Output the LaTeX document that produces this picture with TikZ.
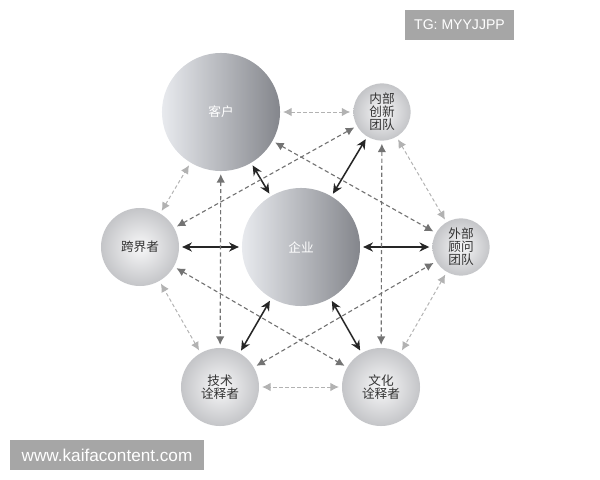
\documentclass[tikz,border=0pt]{standalone}
\usepackage{fontspec}
\newfontfamily\cjk{Noto Sans CJK SC}
\setsansfont{Liberation Sans}
\usetikzlibrary{arrows.meta}

\definecolor{ballleft}{RGB}{232,234,238}
\definecolor{ballright}{RGB}{132,134,140}
\definecolor{ballinner}{RGB}{248,248,249}
\definecolor{ballouter}{RGB}{196,197,200}
\definecolor{marksgray}{RGB}{166,166,166}

\tikzset{
  bigball/.style={circle, minimum size=2.95cm, inner sep=0pt,
    left color=ballleft, right color=ballright, text=white,
    font=\cjk\fontsize{9pt}{9.3pt}\selectfont},
  smallball/.style={circle, minimum size=1.95cm, inner sep=0pt, align=center,
    inner color=ballinner, outer color=ballouter, text=black!80,
    font=\cjk\fontsize{9pt}{9.3pt}\selectfont},
  corearrow/.style={{Stealth[length=7pt,width=6.5pt]}-{Stealth[length=7pt,width=6.5pt]},
    line width=1.1pt, black!85, shorten >=2pt, shorten <=2pt},
  ringarrow/.style={{Latex[length=6pt,width=6pt]}-{Latex[length=6pt,width=6pt]},
    line width=0.7pt, gray!60, dash pattern=on 2.5pt off 1.8pt,
    shorten >=2pt, shorten <=2pt},
  crossarrow/.style={{Latex[length=6pt,width=6pt]}-{Latex[length=6pt,width=6pt]},
    line width=0.8pt, black!55, dash pattern=on 3pt off 2pt,
    shorten >=2pt, shorten <=2pt},
  watermark/.style={fill=marksgray, text=white, inner sep=0pt, minimum height=0.75cm}
}

\begin{document}
\begin{tikzpicture}[x=0.025cm, y=-0.025cm]
\useasboundingbox (0,0) rectangle (600,480);

% the seven balls
\node[bigball] (kehu) at (221,112) {客户};
\node[bigball] (qiye) at (301,247) {企业};
\node[smallball] (kuajie) at (140,247) {跨界者};
\node[smallball, minimum size=1.43cm] (neibu) at (382,112) {内部\\创新\\团队};
\node[smallball, minimum size=1.43cm] (waibu) at (461,247) {外部\\顾问\\团队};
\node[smallball] (jishu) at (220,387) {技术\\诠释者};
\node[smallball] (wenhua) at (381,387) {文化\\诠释者};

% enterprise to everyone
\foreach \n in {kehu,neibu,kuajie,waibu,jishu,wenhua}
  \draw[corearrow] (qiye) -- (\n);

% around the ring
\foreach \a/\b in {kehu/neibu,neibu/waibu,waibu/wenhua,wenhua/jishu,jishu/kuajie,kuajie/kehu}
  \draw[ringarrow] (\a) -- (\b);

% across
\foreach \a/\b in {kehu/waibu,kuajie/neibu,kuajie/wenhua,jishu/waibu,kehu/jishu,neibu/wenhua}
  \draw[crossarrow] (\a) -- (\b);

% marks
\node[watermark, minimum width=2.725cm, font=\sffamily\fontsize{10pt}{12pt}\selectfont] (tg) at (459.5,25) {TG: MYYJJPP};
\node[watermark, minimum width=4.85cm, font=\sffamily\fontsize{12.2pt}{14pt}\selectfont] (site) at (107,455) {www.kaifacontent.com};
\end{tikzpicture}
\end{document}
